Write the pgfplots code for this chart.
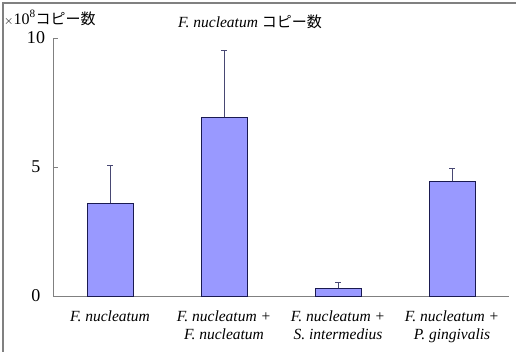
\documentclass[border=0pt]{standalone}
\usepackage{fontspec}
\setmainfont{Liberation Serif}
\newfontfamily\cjk{Noto Sans CJK JP}
\usepackage{pgfplots}
\pgfplotsset{compat=1.18}
\definecolor{barfill}{HTML}{9999FF}
\definecolor{baredge}{HTML}{1A1A50}
\definecolor{axgray}{HTML}{808080}
\begin{document}
\begin{tikzpicture}[x=1pt,y=1pt]
\useasboundingbox (0,0) rectangle (516,352);
\draw[axgray, line width=1.2pt] (3,0) -- (3,349) -- (516,349);
\begin{axis}[
  at={(53pt,56pt)}, anchor=south west,
  scale only axis, width=456pt, height=258pt,
  xmin=-0.5, xmax=3.5, ymin=0, ymax=10,
  axis x line*=bottom, axis y line*=left,
  axis line style={axgray, line width=0.8pt},
  ytick={0,5,10},
  yticklabel style={anchor=center, xshift=-17pt, font=\fontsize{18}{19}\selectfont},
  /pgf/number format/assume math mode=true,
  y tick style={axgray, line width=0.8pt},
  tick align=inside,
  major tick length=5pt,
  xtick={0,1,2,3},
  x tick style={draw=none},
  minor xtick={-0.5,0.5,1.5,2.5,3.5},
  minor x tick style={axgray, line width=0.8pt},
  minor tick length=5pt,
  xticklabels={{\textit{F. nucleatum}},{\textit{F. nucleatum +}\\\textit{F. nucleatum}},{\textit{F. nucleatum +}\\\textit{S. intermedius}},{\textit{F. nucleatum +}\\\textit{P. gingivalis}}},
  xticklabel style={align=center, anchor=north, yshift=-11pt, font=\fontsize{15.5}{18.5}\selectfont},
  clip=false,
]
\addplot[ybar, bar width=46pt, fill=barfill, draw=baredge, line width=0.7pt,
  error bars/.cd, y dir=plus, y explicit,
  error bar style={draw=baredge!80!white, line width=0.8pt},
  error mark options={rotate=90, mark size=3pt, line width=0.8pt, draw=baredge!80!white}]
  coordinates {(0,3.60) +- (0,1.47) (1,6.92) +- (0,2.58) (2,0.30) +- (0,0.23) (3,4.44) +- (0,0.49)};
\end{axis}
\node[anchor=west, inner sep=0pt] at (4,334) {\fontsize{12}{12}\selectfont$\times$\fontsize{16}{16}\selectfont 10\textsuperscript{8}{\cjk\fontsize{15}{15}\selectfont コピー数}};
\node[inner sep=0pt] at (250,330) {\fontsize{15.5}{16}\selectfont\textit{F. nucleatum} {\cjk\fontsize{15}{15}\selectfont コピー数}};
\end{tikzpicture}
\end{document}
